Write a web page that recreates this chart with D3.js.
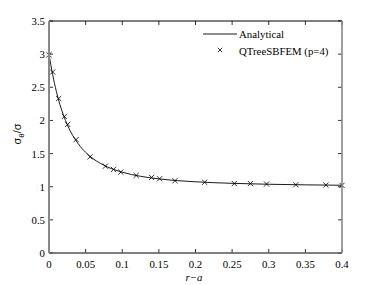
<!DOCTYPE html>
<html><head><meta charset="utf-8">
<script src="https://cdn.jsdelivr.net/npm/d3@7"></script>
<style>body{margin:0;background:#fff}svg{display:block}
text.s{font-family:"Liberation Serif","Times New Roman",serif;font-size:10.8px}
</style>
</head><body><svg id="c" width="378" height="285"></svg>
<script>
// Analytical curve
const curveX = [0,0.005,0.01,0.015,0.02,0.025,0.03,0.04,0.05,0.06,0.07,0.08,0.1,0.125,0.15,0.175,0.2,0.25,0.3,0.35,0.4];
const curveY = [3.0,2.69,2.44,2.236,2.071,1.934,1.821,1.646,1.519,1.424,1.353,1.297,1.219,1.157,1.118,1.092,1.074,1.051,1.037,1.028,1.022];
// QTreeSBFEM (p=4) markers
const femX = [0,0.005,0.0132,0.021,0.0255,0.037,0.056,0.077,0.088,0.098,0.119,0.14,0.151,0.172,0.2125,0.253,0.275,0.297,0.337,0.378,0.4];
const femY = [2.99,2.73,2.33,2.06,1.94,1.71,1.45,1.31,1.26,1.22,1.17,1.14,1.12,1.09,1.067,1.047,1.047,1.04,1.03,1.026,1.02];
const xTicks = [0,0.05,0.1,0.15,0.2,0.25,0.3,0.35,0.4];
const yTicks = [0,0.5,1,1.5,2,2.5,3,3.5];
const legendLabels = ["Analytical","QTreeSBFEM (p=4)"];

const svg = d3.select("#c");
const L=49,R=342,T=21,B=253;
const x = d3.scaleLinear().domain([0,0.4]).range([L,R]);
const y = d3.scaleLinear().domain([0,3.5]).range([B,T]);

// ticks inward
const tl=4;
const g = svg.append("g").attr("stroke","#000").attr("stroke-width",0.8);
xTicks.forEach(v=>{
  g.append("line").attr("x1",x(v)).attr("x2",x(v)).attr("y1",B).attr("y2",B-tl);
  g.append("line").attr("x1",x(v)).attr("x2",x(v)).attr("y1",T).attr("y2",T+tl);
});
yTicks.forEach(v=>{
  g.append("line").attr("x1",L).attr("x2",L+tl).attr("y1",y(v)).attr("y2",y(v));
  g.append("line").attr("x1",R).attr("x2",R-tl).attr("y1",y(v)).attr("y2",y(v));
});

// tick labels
svg.append("g").selectAll("text").data(xTicks).join("text").attr("class","s")
  .attr("x",d=>x(d)).attr("y",268).attr("text-anchor","middle").text(d=>String(d));
svg.append("g").selectAll("text").data(yTicks).join("text").attr("class","s")
  .attr("x",45).attr("y",d=>y(d)+4).attr("text-anchor","end").text(d=>String(d));

// curve
const line = d3.line().x(d=>x(d[0])).y(d=>y(d[1])).curve(d3.curveMonotoneX);
svg.append("path").datum(curveX.map((v,i)=>[v,curveY[i]])).attr("d",line)
  .attr("fill","none").attr("stroke","#000").attr("stroke-width",0.9);

// markers
const ms=2.6;
const mg = svg.append("g").attr("stroke","#000").attr("stroke-width",0.8);
femX.forEach((v,i)=>{
  const cx=x(v), cy=y(femY[i]);
  mg.append("path").attr("d",`M${cx-ms},${cy-ms}L${cx+ms},${cy+ms}M${cx-ms},${cy+ms}L${cx+ms},${cy-ms}`);
});

// frame
svg.append("line").attr("x1",L).attr("x2",R).attr("y1",T).attr("y2",T).attr("stroke","#000").attr("stroke-width",1);
svg.append("line").attr("x1",L).attr("x2",R).attr("y1",B).attr("y2",B).attr("stroke","#555").attr("stroke-width",1.4);
svg.append("line").attr("x1",L).attr("x2",L).attr("y1",T).attr("y2",B).attr("stroke","#888").attr("stroke-width",2);
svg.append("line").attr("x1",R).attr("x2",R).attr("y1",T).attr("y2",B).attr("stroke","#888").attr("stroke-width",1.6);

// legend
svg.append("line").attr("x1",203).attr("x2",237).attr("y1",34).attr("y2",34).attr("stroke","#000").attr("stroke-width",0.9);
{const cx=220,cy=50,s=2.2;
 svg.append("path").attr("d",`M${cx-s},${cy-s}L${cx+s},${cy+s}M${cx-s},${cy+s}L${cx+s},${cy-s}`).attr("stroke","#000").attr("stroke-width",0.8);}
svg.append("g").selectAll("text").data(legendLabels).join("text").attr("class","s")
  .attr("x",239).attr("y",(d,i)=>38+i*17).text(d=>d);

// axis labels
svg.append("text").attr("class","s").attr("x",194).attr("y",281).attr("text-anchor","middle")
  .attr("font-style","italic").text("r\u2212a");
const yl = svg.append("text").attr("transform","translate(21,134) rotate(-90)").attr("text-anchor","middle")
  .attr("font-family","'Liberation Sans',Arial,sans-serif").attr("font-size",11);
yl.append("tspan").text("σ");
yl.append("tspan").attr("font-size",8).attr("dy",3).text("θ");
yl.append("tspan").attr("dy",-3).text("/σ");
</script></body></html>
